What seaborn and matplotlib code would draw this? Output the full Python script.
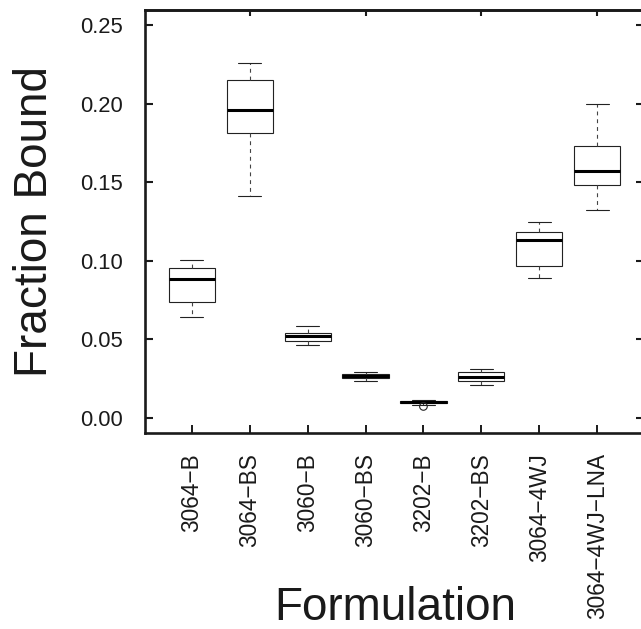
import numpy as np
import pandas as pd
import matplotlib
matplotlib.use("Agg")
import matplotlib.pyplot as plt
import seaborn as sns

# ---- data ----
categories = ["3064\u2212B", "3064\u2212BS", "3060\u2212B", "3060\u2212BS",
              "3202\u2212B", "3202\u2212BS", "3064\u22124WJ", "3064\u22124WJ\u2212LNA"]
whisker_low = [0.0641, 0.1413, 0.0466, 0.0237, 0.0085, 0.0212, 0.0890, 0.1320]
q1_vals     = [0.0737, 0.1812, 0.0490, 0.0252, 0.0094, 0.0233, 0.0968, 0.1483]
median_vals = [0.0887, 0.1962, 0.0523, 0.0267, 0.0102, 0.0261, 0.1132, 0.1574]
q3_vals     = [0.0954, 0.2149, 0.0540, 0.0282, 0.0110, 0.0292, 0.1184, 0.1733]
whisker_high = [0.1002, 0.2257, 0.0587, 0.0290, 0.0116, 0.0309, 0.1246, 0.1996]
outlier_cats = ["3202\u2212B"]
outlier_vals = [0.0074]
y_ticks = [0.00, 0.05, 0.10, 0.15, 0.20, 0.25]
y_tick_labels = ["0.00", "0.05", "0.10", "0.15", "0.20", "0.25"]

rows = []
for c, a, b, m, d, e in zip(categories, whisker_low, q1_vals, median_vals, q3_vals, whisker_high):
    for v in (a, b, m, d, e):
        rows.append({"Formulation": c, "Fraction Bound": v})
df = pd.DataFrame(rows)
out_df = pd.DataFrame({"Formulation": outlier_cats, "Fraction Bound": outlier_vals})

sns.set_theme(style="ticks")
plt.rcParams["font.family"] = ["Liberation Sans", "DejaVu Sans"]

W, H = 641, 629
fig = plt.figure(figsize=(W / 100, H / 100), dpi=100)
ax = fig.add_axes([145 / W, (H - 433) / H, (644 - 145) / W, (433 - 10) / H])

lc = "#222222"
sns.boxplot(data=df, x="Formulation", y="Fraction Bound", order=categories,
            color="white", linecolor=lc, linewidth=0.8, width=0.8, whis=1.5,
            showfliers=False, ax=ax,
            whiskerprops=dict(linestyle=(0, (3.5, 3.5)), color="#444444"),
            medianprops=dict(linewidth=2.2, color="black"))
sns.stripplot(data=out_df, x="Formulation", y="Fraction Bound", order=categories,
              jitter=False, size=5.5, marker="o", color="white",
              edgecolor=lc, linewidth=0.8, ax=ax)
for coll in ax.collections:
    coll.set_facecolor("none")
    coll.set_edgecolor(lc)

ax.set_xlim(-0.81, 7.81)
ax.set_ylim(-0.0095, 0.2595)
ax.set_yticks(y_ticks)
ax.set_yticklabels(y_tick_labels)
ax.set_xticks(range(len(categories)))
ax.set_xticklabels(categories, rotation=90)

for s in ["left", "bottom", "top", "right"]:
    ax.spines[s].set_visible(True)
    ax.spines[s].set_linewidth(1.9)
    ax.spines[s].set_color("#1a1a1a")

ax.tick_params(axis="y", direction="in", length=5.5, width=1.5, pad=15.8,
               labelsize=15.8, right=True, left=True, colors="#1a1a1a")
ax.tick_params(axis="x", direction="in", length=5.8, width=1.4, pad=14.4,
               labelsize=16.3, colors="#1a1a1a")

sec = ax.secondary_xaxis("top")
sec.set_xticks([1, 3, 5, 7])
sec.tick_params(direction="in", length=4.3, width=1.5, labeltop=False, colors="#1a1a1a")
sec.spines["top"].set_linewidth(1.9)
sec.spines["top"].set_color("#1a1a1a")

ax.set_xlabel("Formulation", fontsize=33, color="#1a1a1a")
ax.xaxis.set_label_coords(395 / W, (H - 620) / H, transform=fig.transFigure)
ax.xaxis.label.set_va("baseline")
ax.set_ylabel("Fraction Bound", fontsize=33, color="#1a1a1a")
ax.yaxis.set_label_coords(47 / W, (H - 221.7) / H, transform=fig.transFigure)
ax.yaxis.label.set_va("baseline")

fig.savefig("out.png", dpi=100)
